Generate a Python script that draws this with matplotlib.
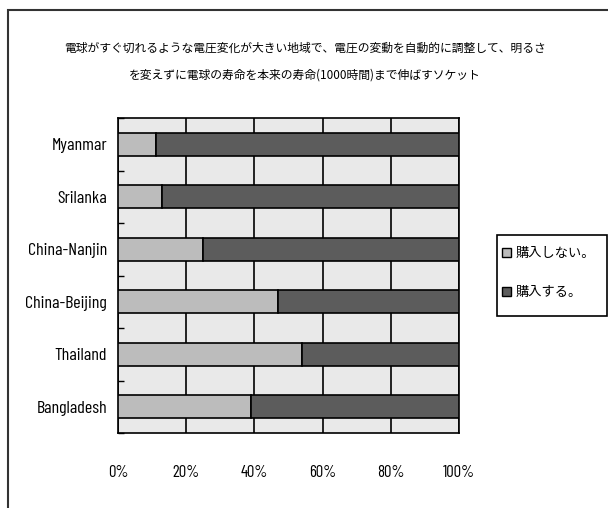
import matplotlib.pyplot as plt
import matplotlib.patches as mpatches
import numpy as np

# Survey results per region (percent of respondents)
regions = ['Myanmar', 'Srilanka', 'China-Nanjin', 'China-Beijing', 'Thailand', 'Bangladesh']
not_buy = [11, 13, 25, 47, 54, 39]
buy = [89, 87, 75, 53, 46, 61]
series_labels = ['購入しない。', '購入する。']
x_ticks = [0, 20, 40, 60, 80, 100]
x_tick_labels = ['0%', '20%', '40%', '60%', '80%', '100%']

title_lines = [
    '電球がすぐ切れるような電圧変化が大きい地域で、電圧の変動を自動的に調整して、明るさ',
    'を変えずに電球の寿命を本来の寿命(1000時間)まで伸ばすソケット',
]

narrow = ['Barlow Condensed', 'DejaVu Sans']
jp = ['Noto Sans CJK JP', 'DejaVu Sans']

light = '#bcbcbc'
dark = '#5c5c5c'

fig = plt.figure(figsize=(6.08, 5.08), dpi=100)
ax = fig.add_axes([118 / 608, 1 - 433 / 508, 341 / 608, 315 / 508])
ax.set_facecolor('#e9e9e9')

y = np.arange(len(regions))
bar_h = 0.44
ax.barh(y, not_buy, height=bar_h, color=light, edgecolor='black', linewidth=1.2, zorder=3)
ax.barh(y, buy, left=not_buy, height=bar_h, color=dark, edgecolor='black', linewidth=1.2, zorder=3)

ax.set_xlim(0, 100)
ax.set_ylim(len(regions) - 0.5, -0.5)

ax.set_xticks(x_ticks)
ax.set_xticklabels(x_tick_labels, fontfamily=narrow, fontsize=12)
ax.tick_params(axis='x', length=0, pad=23)
ax.set_yticks(y)
ax.set_yticklabels(regions, fontfamily=narrow, fontsize=13)
ax.tick_params(axis='y', length=0, pad=8)
ax.set_yticks(np.arange(len(regions) + 1) - 0.5, minor=True)
ax.tick_params(axis='y', which='minor', direction='in', length=4, width=1)

ax.xaxis.grid(True, color='black', linewidth=1.2, zorder=1)
ax.set_axisbelow(True)
for s in ax.spines.values():
    s.set_linewidth(1.2)

# chart title
fig.text(305 / 608, 1 - 48 / 508, title_lines[0], ha='center', va='center',
         fontfamily=jp, fontsize=8.5)
fig.text(305 / 608, 1 - 75 / 508, title_lines[1], ha='center', va='center',
         fontfamily=jp, fontsize=8.5)

# legend on the right, with its own box
handles = [mpatches.Patch(facecolor=light, edgecolor='black', linewidth=1),
           mpatches.Patch(facecolor=dark, edgecolor='black', linewidth=1)]
fig.legend(handles, series_labels, loc='center left',
           bbox_to_anchor=(502 / 608, 1 - 273 / 508),
           prop={'family': jp, 'size': 9.5}, frameon=False,
           handlelength=0.7, handleheight=0.7, handletextpad=0.35,
           labelspacing=2.0, borderpad=0, borderaxespad=0)
fig.add_artist(mpatches.Rectangle((497 / 608, 1 - 316 / 508), 110 / 608, 81 / 508,
                                  transform=fig.transFigure, fill=False,
                                  edgecolor='black', linewidth=1.2))

# outer chart frame
fig.add_artist(mpatches.Rectangle((8 / 608, -0.1), 1.2, 1 - 10 / 508 + 0.1,
                                  transform=fig.transFigure, fill=False,
                                  edgecolor='#333333', linewidth=1.5))

fig.savefig('out.png', dpi=100)
